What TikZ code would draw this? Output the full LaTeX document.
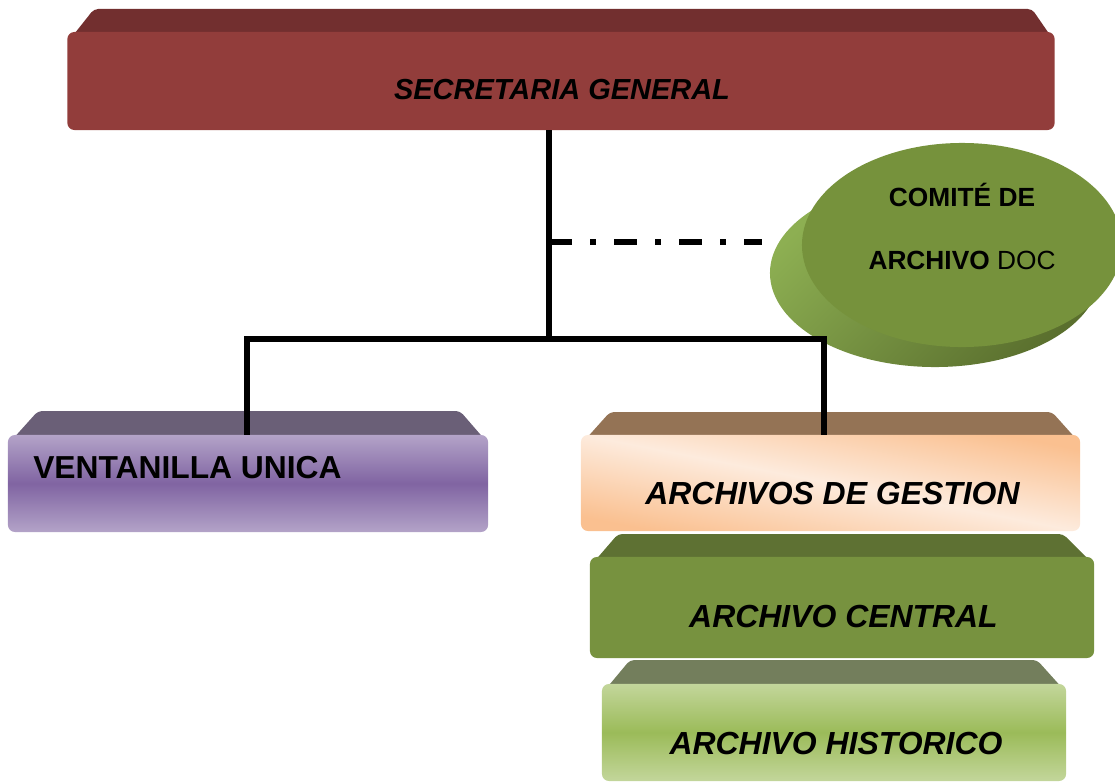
\documentclass[tikz,border=0pt]{standalone}
\usepackage{fontspec}
\setmainfont{Liberation Sans}
\usetikzlibrary{shapes.geometric}

\definecolor{secFront}{HTML}{923D3B}
\definecolor{secTop}{HTML}{722F2F}
\definecolor{venTop}{HTML}{6A5F77}
\definecolor{venLight}{HTML}{B3A3C8}
\definecolor{venMid}{HTML}{8064A2}
\definecolor{gesTop}{HTML}{947355}
\definecolor{gesDark}{HTML}{FAC090}
\definecolor{gesLight}{HTML}{FDEBDD}
\definecolor{cenTop}{HTML}{5E7133}
\definecolor{cenFront}{HTML}{77923F}
\definecolor{hisTop}{HTML}{737E5C}
\definecolor{hisLight}{HTML}{C3D69B}
\definecolor{hisMid}{HTML}{9BBB59}
\definecolor{comFace}{HTML}{76923C}
\definecolor{comLight}{HTML}{8DAF52}
\definecolor{comDark}{HTML}{5A6F2E}

\tikzset{
  frontbox/.style={rectangle, rounded corners=5pt, inner sep=0pt, outer sep=0pt},
  topface/.style={rounded corners=3pt},
  boxtitle/.style={inner sep=0pt, font=\fontsize{22.7}{27}\selectfont\bfseries\itshape},
  link/.style={line width=4pt},
  controlline/.style={line width=4pt, dash pattern=on 16.4pt off 12.8pt on 4.3pt off 12.8pt}
}

\begin{document}
\begin{tikzpicture}[x=0.025cm, y=-0.025cm]
			%%%%% START %%%%%
			\useasboundingbox (0,0) rectangle (1115,782);
			
			% secretaria general
			\fill[secTop, topface] (71,38) -- (94,9) -- (1032,9) -- (1052,38) -- cycle;
			\node[frontbox, fill=secFront, minimum width=24.675cm, minimum height=2.45cm] (secretaria) at (561,81) {};
			\node[boxtitle, font=\fontsize{20.6}{25}\selectfont\bfseries\itshape] (secretariatxt) at (562,90) {SECRETARIA GENERAL};
			
			% ventanilla unica
			\fill[venTop, topface] (11,441) -- (38,411) -- (460,411) -- (486,441) -- cycle;
			\node[frontbox, top color=venLight, bottom color=venLight, middle color=venMid, minimum width=12cm, minimum height=2.425cm] (ventanilla) at (248,483.5) {};
			\node[boxtitle, font=\fontsize{22.6}{27}\selectfont\bfseries, anchor=west] (ventanillatxt) at (33,468) {VENTANILLA UNICA};
			
			% archivos de gestion
			\fill[gesTop, topface] (584,441) -- (610,412) -- (1052,412) -- (1078,441) -- cycle;
			\node[frontbox, top color=gesDark, bottom color=gesDark, middle color=gesLight, shading angle=-11, minimum width=12.475cm, minimum height=2.4cm] (gestion) at (830.5,483) {};
			\node[boxtitle] (gestiontxt) at (832.5,494) {ARCHIVOS DE GESTION};
			
			% archivo central
			\fill[cenTop, topface] (593,563) -- (618,534) -- (1063,534) -- (1092,563) -- cycle;
			\node[frontbox, fill=cenFront, minimum width=12.6cm, minimum height=2.525cm] (central) at (842,607.5) {};
			\node[boxtitle] (centraltxt) at (843.5,617) {ARCHIVO CENTRAL};
			
			% archivo historico
			\fill[hisTop, topface] (605,690) -- (630,660) -- (1037,660) -- (1064,690) -- cycle;
			\node[frontbox, top color=hisLight, bottom color=hisLight, middle color=hisMid, minimum width=11.6cm, minimum height=2.425cm] (historico) at (834,732.5) {};
			\node[boxtitle] (historicotxt) at (836,743) {ARCHIVO HISTORICO};
			
			% comite de archivo
			\node[ellipse, inner sep=0pt, outer sep=0pt, left color=comLight, right color=comDark, shading angle=45, minimum width=8.25cm, minimum height=4.7cm] (comiteside) at (935,273) {};
			\node[ellipse, inner sep=0pt, outer sep=0pt, fill=comFace, minimum width=8cm, minimum height=5.1cm] (comite) at (962,245) {};
			\node[align=center, inner sep=0pt, font=\fontsize{18.7}{44.8}\selectfont] (comitetxt) at (962,226.5) {\textbf{COMITÉ DE}\\\textbf{ARCHIVO} DOC};
			
			% lines
			\coordinate (branch) at (549,339);
			\coordinate (tap) at (549,242);
			\coordinate (elbowL) at (247,339);
			\coordinate (elbowR) at (824,339);
			\draw[link] (secretaria.south -| branch) -- (branch);
			\draw[link] (elbowL |- ventanilla.north) -- (elbowL) -- (elbowR) -- (elbowR |- gestion.north);
			\draw[controlline, shorten >=5.7pt] (tap) -- (tap -| comiteside.west);
			
			%%%%% END %%%%%
\end{tikzpicture}
\end{document}
